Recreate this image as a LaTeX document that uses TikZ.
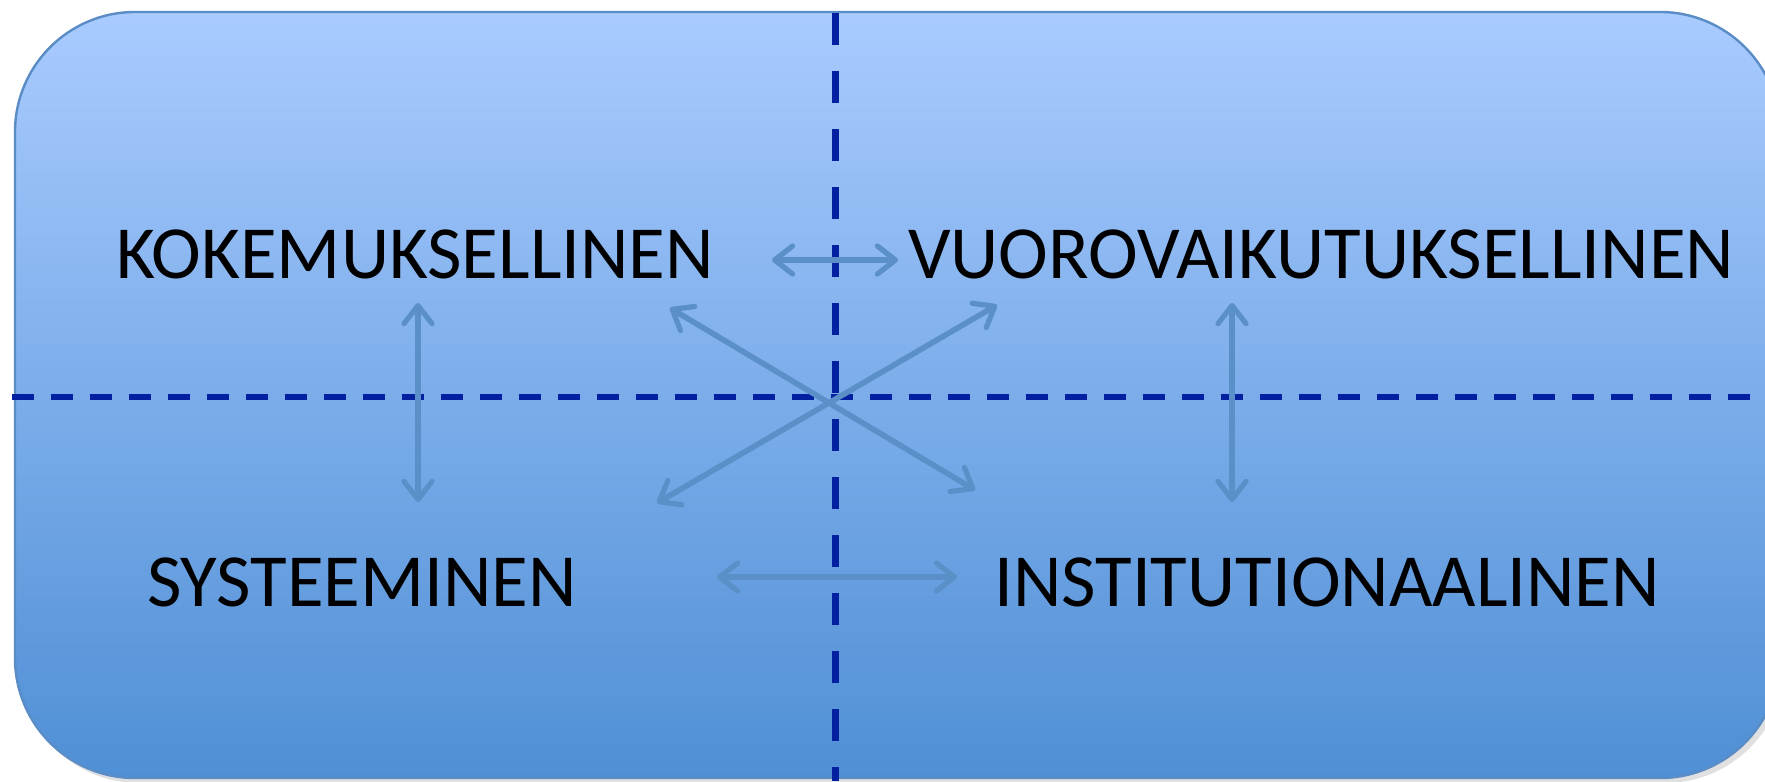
\documentclass[tikz,border=0pt]{standalone}
\usepackage{fontspec}
\setmainfont{Carlito}
\usetikzlibrary{arrows.meta,shadows}
\definecolor{boxtop}{HTML}{A9CBFF}
\definecolor{boxbot}{HTML}{4F8FD5}
\definecolor{boxedge}{HTML}{5A8CC6}
\definecolor{dashblue}{HTML}{0320A0}
\definecolor{arrowblue}{HTML}{5B8FC7}
\tikzset{
  label/.style={font=\fontsize{37.5}{45}\selectfont, text=black, inner sep=0pt, anchor=center},
  linkarrow/.style={draw=arrowblue, line width=2.8pt, line cap=round, {Straight Barb[length=9pt,width=14pt,line width=2.6pt,round]}-{Straight Barb[length=9pt,width=14pt,line width=2.6pt,round]}},
  axisline/.style={draw=dashblue}
}
\begin{document}
\begin{tikzpicture}[x=0.5pt,y=-0.5pt]
\useasboundingbox (0,0) rectangle (1765,781);
\clip (0,0) rectangle (1765,781);
% box
\fill[black!40, opacity=0.3] (19,17) [rounded corners=60pt] rectangle (1785,783);
\shade[top color=boxtop, bottom color=boxbot, draw=boxedge, line width=1.2pt, rounded corners=60pt] (15,12) rectangle (1780,778);
% dashed axes
\draw[axisline, line width=3.5pt, dash pattern=on 16pt off 13pt] (835,13) -- (835,781);
\draw[axisline, line width=3pt, dash pattern=on 11pt off 8.5pt] (12,397) -- (1765,397);
% labels
\node[label] (kok) at (415,254) {KOKEMUKSELLINEN};
\node[label] (vuo) at (1321,254) {VUOROVAIKUTUKSELLINEN};
\node[label] (sys) at (362,582) {SYSTEEMINEN};
\node[label] (ins) at (1327,582) {INSTITUTIONAALINEN};
% arrow end points
\coordinate (kv1) at (772,260);
\coordinate (kv2) at (898,260);
\coordinate (si1) at (717,577);
\coordinate (si2) at (957,577);
\coordinate (ks1) at (418,303);
\coordinate (ks2) at (418,502);
\coordinate (vi1) at (1232,303);
\coordinate (vi2) at (1232,502);
\coordinate (ki1) at (670,308);
\coordinate (ki2) at (975,490);
\coordinate (sv1) at (657,503);
\coordinate (sv2) at (997,305);
% arrows
\draw[linkarrow] (kv1) -- (kv2);
\draw[linkarrow] (si1) -- (si2);
\draw[linkarrow] (ks1) -- (ks2);
\draw[linkarrow] (vi1) -- (vi2);
\draw[linkarrow] (ki1) -- (ki2);
\draw[linkarrow] (sv1) -- (sv2);
\end{tikzpicture}
\end{document}
